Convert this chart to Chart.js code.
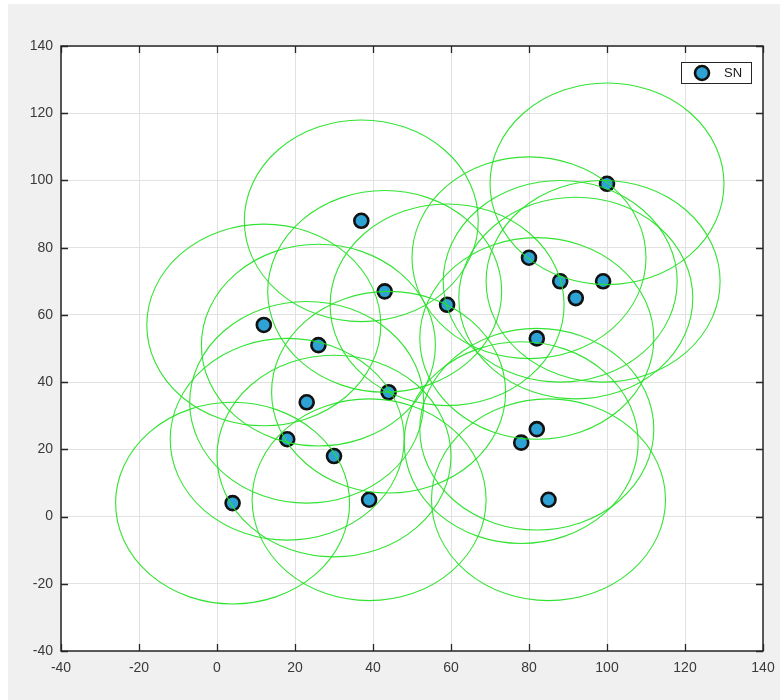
<!DOCTYPE html>
<html>
<head>
<meta charset="utf-8">
<script src="https://cdn.jsdelivr.net/npm/chart.js@4.4.1/dist/chart.umd.min.js"></script>
<style>
  html, body { margin: 0; padding: 0; background: #ffffff; }
  #wrap { position: relative; width: 780px; height: 700px; }
  canvas { display: block; }
</style>
</head>
<body>
<div id="wrap"><canvas id="c" width="780" height="700"></canvas></div>
<script>
// Sensor node positions (x, y)
const nodeX = [4, 12, 18, 23, 26, 30, 37, 39, 43, 44, 59, 78, 80, 82, 82, 85, 88, 92, 99, 100];
const nodeY = [4, 57, 23, 34, 51, 18, 88, 5, 67, 37, 63, 22, 77, 53, 26, 5, 70, 65, 70, 99];
// Sensing range of every node
const senseRadius = 30;
// Axis ticks
const xTicks = [-40, -20, 0, 20, 40, 60, 80, 100, 120, 140];
const yTicks = [-40, -20, 0, 20, 40, 60, 80, 100, 120, 140];
const seriesLabel = 'SN';

const points = nodeX.map((x, i) => ({ x: x, y: nodeY[i] }));

const AXIS_COLOR = '#262626';
const TEXT_COLOR = '#3a3a3a';
const FONT = '"Liberation Sans", Arial, Helvetica, sans-serif';

// Figure background: white margin strip, grey figure panel
const figureBg = {
  id: 'figureBg',
  beforeDraw(chart) {
    const ctx = chart.ctx;
    ctx.save();
    ctx.fillStyle = '#ffffff';
    ctx.fillRect(0, 0, chart.width, chart.height);
    ctx.fillStyle = '#f0f0f0';
    ctx.fillRect(8, 4, chart.width - 8, chart.height - 4);
    const a = chart.chartArea;
    ctx.fillStyle = '#ffffff';
    ctx.fillRect(a.left, a.top, a.right - a.left, a.bottom - a.top);
    ctx.restore();
  }
};

// Axes box with inward tick marks on all four sides
const axesBox = {
  id: 'axesBox',
  beforeDatasetsDraw(chart) {
    const ctx = chart.ctx;
    const a = chart.chartArea;
    const xs = chart.scales.x, ys = chart.scales.y;
    const tl = 7;
    ctx.save();
    ctx.strokeStyle = AXIS_COLOR;
    ctx.lineWidth = 1.3;
    ctx.beginPath();
    xTicks.forEach(v => {
      const px = Math.round(xs.getPixelForValue(v)) + 0.5;
      ctx.moveTo(px, a.bottom); ctx.lineTo(px, a.bottom - tl);
      ctx.moveTo(px, a.top); ctx.lineTo(px, a.top + tl);
    });
    yTicks.forEach(v => {
      const py = Math.round(ys.getPixelForValue(v)) + 0.5;
      ctx.moveTo(a.left, py); ctx.lineTo(a.left + tl, py);
      ctx.moveTo(a.right, py); ctx.lineTo(a.right - tl, py);
    });
    ctx.stroke();
    ctx.lineWidth = 1.5;
    ctx.strokeRect(a.left, a.top, a.right - a.left, a.bottom - a.top);
    ctx.restore();
  }
};

// Sensing-range circles around each node, drawn through the axis scales
const rangeCircles = {
  id: 'rangeCircles',
  afterDatasetsDraw(chart) {
    const ctx = chart.ctx;
    const xs = chart.scales.x, ys = chart.scales.y;
    const a = chart.chartArea;
    ctx.save();
    ctx.beginPath();
    ctx.rect(a.left, a.top, a.right - a.left, a.bottom - a.top);
    ctx.clip();
    ctx.strokeStyle = 'rgba(40, 225, 40, 0.95)';
    ctx.lineWidth = 1.1;
    points.forEach(p => {
      const cx = xs.getPixelForValue(p.x);
      const cy = ys.getPixelForValue(p.y);
      const rx = Math.abs(xs.getPixelForValue(p.x + senseRadius) - cx);
      const ry = Math.abs(ys.getPixelForValue(p.y + senseRadius) - cy);
      ctx.beginPath();
      ctx.ellipse(cx, cy, rx, ry, 0, 0, Math.PI * 2);
      ctx.stroke();
    });
    ctx.restore();
  }
};

// Boxed legend in the upper-right corner of the axes
const boxLegend = {
  id: 'boxLegend',
  afterDraw(chart) {
    const ctx = chart.ctx;
    const a = chart.chartArea;
    const ds = chart.data.datasets[0];
    const w = 70, h = 21;
    const x0 = a.right - 12 - w, y0 = a.top + 16;
    ctx.save();
    ctx.fillStyle = '#ffffff';
    ctx.fillRect(x0, y0, w, h);
    ctx.strokeStyle = AXIS_COLOR;
    ctx.lineWidth = 1;
    ctx.strokeRect(x0 + 0.5, y0 + 0.5, w, h);
    ctx.beginPath();
    ctx.arc(x0 + 21, y0 + h / 2 + 0.5, ds.pointRadius, 0, Math.PI * 2);
    ctx.fillStyle = ds.backgroundColor;
    ctx.fill();
    ctx.lineWidth = ds.borderWidth;
    ctx.strokeStyle = ds.borderColor;
    ctx.stroke();
    ctx.fillStyle = '#1a1a1a';
    ctx.font = '13px ' + FONT;
    ctx.textBaseline = 'middle';
    ctx.textAlign = 'left';
    ctx.fillText(ds.label, x0 + 43, y0 + h / 2 + 1);
    ctx.restore();
  }
};

const tickFont = { family: FONT, size: 14 };

new Chart(document.getElementById('c'), {
  type: 'scatter',
  data: {
    datasets: [{
      label: seriesLabel,
      data: points,
      pointRadius: 7,
      pointHoverRadius: 7,
      backgroundColor: '#2ea2d4',
      borderColor: '#111111',
      borderWidth: 2.6
    }]
  },
  options: {
    responsive: false,
    animation: false,
    events: [],
    layout: { padding: { top: 46, right: 17, left: 0, bottom: 0 } },
    plugins: {
      legend: { display: false },
      tooltip: { enabled: false }
    },
    scales: {
      x: {
        type: 'linear',
        min: xTicks[0],
        max: xTicks[xTicks.length - 1],
        afterBuildTicks(scale) { scale.ticks = xTicks.map(v => ({ value: v })); },
        afterFit(scale) {
          scale.height = 49;
          scale.paddingLeft = 0;
          scale.paddingRight = 0;
        },
        grid: { color: '#e2e2e2', lineWidth: 1, drawTicks: false },
        border: { display: false },
        ticks: { color: TEXT_COLOR, font: tickFont, padding: 9, maxRotation: 0 }
      },
      y: {
        type: 'linear',
        min: yTicks[0],
        max: yTicks[yTicks.length - 1],
        afterBuildTicks(scale) { scale.ticks = yTicks.map(v => ({ value: v })); },
        afterFit(scale) {
          scale.width = 61;
          scale.paddingTop = 0;
          scale.paddingBottom = 0;
        },
        grid: { color: '#e2e2e2', lineWidth: 1, drawTicks: false },
        border: { display: false },
        ticks: { color: TEXT_COLOR, font: tickFont, padding: 8 }
      }
    }
  },
  plugins: [figureBg, axesBox, rangeCircles, boxLegend]
});
</script>
</body>
</html>
